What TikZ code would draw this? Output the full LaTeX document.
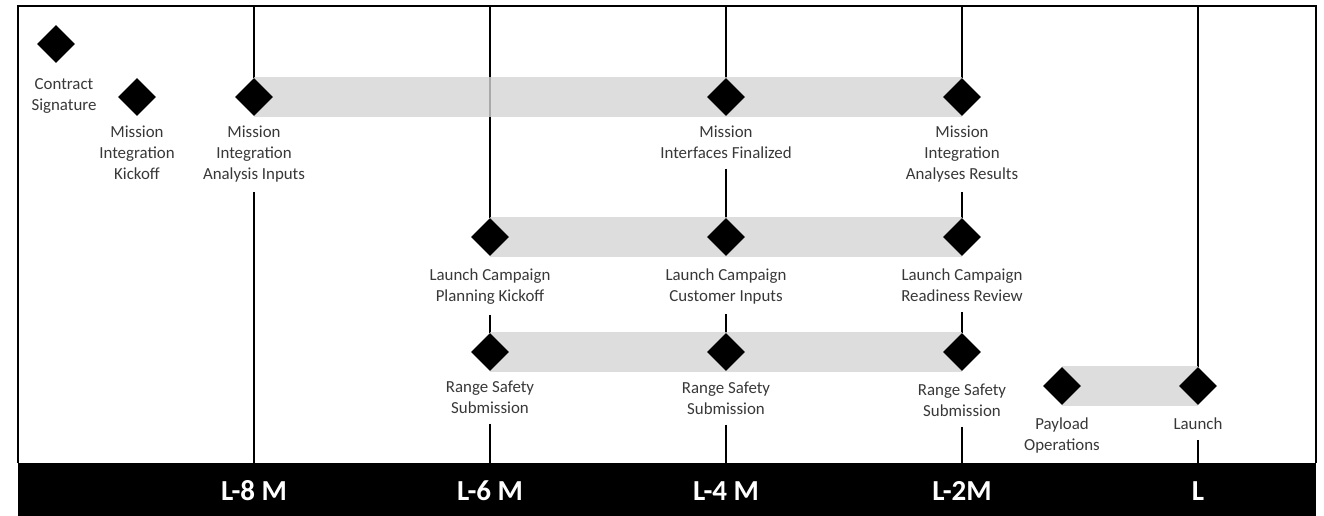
\documentclass[tikz,border=0pt]{standalone}
\usepackage{fontspec}
\setmainfont{Carlito}
\usetikzlibrary{shapes.geometric, backgrounds}
\definecolor{barfill}{gray}{0.83}
\definecolor{labelgray}{gray}{0.22}

\begin{document}
\begin{tikzpicture}[
    x=0.02cm, y=-0.02cm,
    milestone/.style={diamond, fill=black, inner sep=0pt, minimum size=0.76cm},
    lbl/.style={font=\fontsize{9.6}{11.9}\selectfont, text=labelgray, align=center, inner sep=0pt},
    phase/.style={fill=barfill, fill opacity=0.8},
    stem/.style={line width=1.2pt},
    gap/.style={stem, shorten <=0.2cm},
    tick/.style={font=\fontsize{16.5}{18}\selectfont\bfseries, text=white, inner sep=0pt}
]
    % Page size
    \useasboundingbox (0,0) rectangle (1324,516);

    % Frame
    \draw[line width=1.2pt] (18,463) -- (18,6) -- (1316,6) -- (1316,463);

    % Milestones
    \node[milestone] (cs)  at (56,44) {};
    \node[milestone] (mik) at (137,97) {};
    \node[milestone] (mia) at (254,97) {};
    \node[milestone] (mif) at (726,97) {};
    \node[milestone] (mar) at (962,97) {};

    \node[milestone] (lpk) at (490,237) {};
    \node[milestone] (lci) at (726,237) {};
    \node[milestone] (lrr) at (962,237) {};

    \node[milestone] (rs1) at (490,352) {};
    \node[milestone] (rs2) at (726,352) {};
    \node[milestone] (rs3) at (962,352) {};

    \node[milestone] (po) at (1062,386) {};
    \node[milestone] (ln) at (1198,386) {};

    % Labels below the milestones
    \node[lbl, anchor=north] (lcs) at (64,78) {Contract\\Signature};
    \node[lbl, anchor=north, yshift=-0.18cm] (lmik) at (mik.south) {Mission\\Integration\\Kickoff};
    \node[lbl, anchor=north, yshift=-0.18cm] (lmia) at (mia.south) {Mission\\Integration\\Analysis Inputs};
    \node[lbl, anchor=north, yshift=-0.18cm] (lmif) at (mif.south) {Mission\\Interfaces Finalized};
    \node[lbl, anchor=north, yshift=-0.18cm] (lmar) at (mar.south) {Mission\\Integration\\Analyses Results};

    \node[lbl, anchor=north, yshift=-0.24cm] (llpk) at (lpk.south) {Launch Campaign\\Planning Kickoff};
    \node[lbl, anchor=north, yshift=-0.24cm] (llci) at (lci.south) {Launch Campaign\\Customer Inputs};
    \node[lbl, anchor=north, yshift=-0.24cm] (llrr) at (lrr.south) {Launch Campaign\\Readiness Review};

    \node[lbl, anchor=north, yshift=-0.18cm] (lrs1) at (rs1.south) {Range Safety\\Submission};
    \node[lbl, anchor=north, yshift=-0.20cm] (lrs2) at (rs2.south) {Range Safety\\Submission};
    \node[lbl, anchor=north, yshift=-0.24cm] (lrs3) at (rs3.south) {Range Safety\\Submission};

    \node[lbl, anchor=north, yshift=-0.24cm] (lpo) at (po.south) {Payload\\Operations};
    \node[lbl, anchor=north, yshift=-0.24cm] (lln) at (ln.south) {Launch};

    % Month lines, broken by the labels
    \coordinate (top8) at (254,6);  \coordinate (bot8) at (254,463);
    \coordinate (top6) at (490,6);  \coordinate (bot6) at (490,463);
    \coordinate (top4) at (726,6);  \coordinate (bot4) at (726,463);
    \coordinate (top2) at (962,6);  \coordinate (bot2) at (962,463);
    \coordinate (top0) at (1198,6); \coordinate (bot0) at (1198,463);

    \begin{scope}[on background layer]
        \draw[stem] (top8) -- (mia.north);
        \draw[gap] (lmia.south) -- (bot8);

        \draw[stem] (top6) -- (lpk.north);
        \draw[gap] (llpk.south) -- (rs1.north);
        \draw[gap] (lrs1.south) -- (bot6);

        \draw[stem] (top4) -- (mif.north);
        \draw[gap] (lmif.south) -- (lci.north);
        \draw[gap] (llci.south) -- (rs2.north);
        \draw[gap] (lrs2.south) -- (bot4);

        \draw[stem] (top2) -- (mar.north);
        \draw[gap] (lmar.south) -- (lrr.north);
        \draw[gap] (llrr.south) -- (rs3.north);
        \draw[gap] (lrs3.south) -- (bot2);

        \draw[stem] (top0) -- (ln.north);
        \draw[gap] (lln.south) -- (bot0);

        % Phase bars
        \fill[phase] ([yshift=0.4cm]mia.center) rectangle ([yshift=-0.4cm]mar.center);
        \fill[phase] ([yshift=0.4cm]lpk.center) rectangle ([yshift=-0.4cm]lrr.center);
        \fill[phase] ([yshift=0.4cm]rs1.center) rectangle ([yshift=-0.4cm]rs3.center);
        \fill[phase] ([yshift=0.4cm]po.center) rectangle ([yshift=-0.4cm]ln.center);
    \end{scope}

    % Time axis
    \fill[black] (18,463) rectangle (1316,516);
    \node[tick] (m8) at (254,491) {L-8 M};
    \node[tick] (m6) at (490,491) {L-6 M};
    \node[tick] (m4) at (726,491) {L-4 M};
    \node[tick] (m2) at (962,491) {L-2M};
    \node[tick] (m0) at (1198,491) {L};

\end{tikzpicture}
\end{document}
